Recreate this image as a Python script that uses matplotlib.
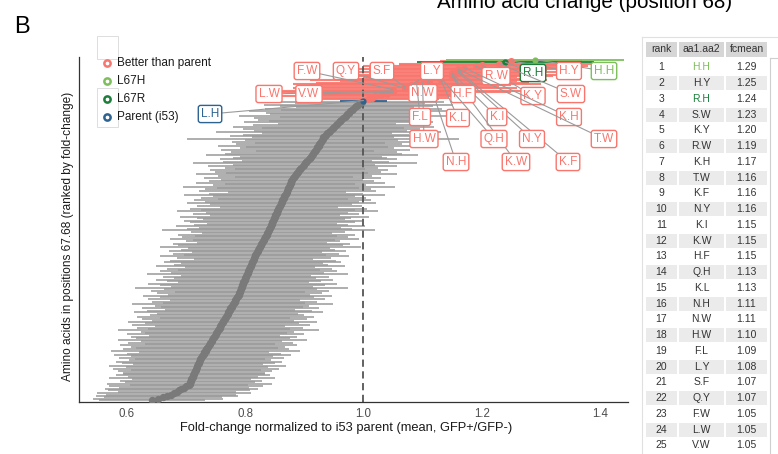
import numpy as np
import matplotlib
matplotlib.use("Agg")
import matplotlib.pyplot as plt
from matplotlib.patches import Rectangle
from matplotlib.lines import Line2D

plt.rcParams["font.family"] = ["Liberation Sans", "DejaVu Sans"]

# ---------------------------------------------------------------- data
# Top 25 variants (positions 67.68), ranked by mean fold-change
top_pair = ["H.H", "H.Y", "R.H", "S.W", "K.Y", "R.W", "K.H", "T.W", "K.F", "N.Y",
            "K.I", "K.W", "H.F", "Q.H", "K.L", "N.H", "N.W", "H.W", "F.L", "L.Y",
            "S.F", "Q.Y", "F.W", "L.W", "V.W"]
top_fc = [1.29, 1.25, 1.24, 1.23, 1.20, 1.19, 1.17, 1.16, 1.16, 1.16,
          1.15, 1.15, 1.15, 1.13, 1.13, 1.11, 1.11, 1.10, 1.09, 1.08,
          1.07, 1.07, 1.05, 1.05, 1.05]

# Remaining variants, ranks 26..250 (rank 31 is the i53 parent, L.H)
rest_fc = [
    1.040, 1.030, 1.020, 1.015, 1.008, 1.000,
    0.997, 0.994, 0.991, 0.988, 0.986, 0.983, 0.980, 0.977, 0.975, 0.972,
    0.970, 0.968, 0.965, 0.962, 0.960, 0.958, 0.955,
    0.953, 0.950, 0.948, 0.946, 0.944, 0.941, 0.939, 0.937, 0.935, 0.932,
    0.931, 0.929, 0.928, 0.927, 0.925, 0.924, 0.922, 0.921, 0.919, 0.918, 0.916, 0.915,
    0.913, 0.911, 0.909, 0.907, 0.905, 0.903, 0.901, 0.899, 0.897, 0.895,
    0.893, 0.891, 0.889, 0.888, 0.886, 0.884, 0.882, 0.880,
    0.879, 0.878, 0.877, 0.876, 0.875, 0.874, 0.873, 0.872, 0.871, 0.870, 0.869,
    0.867, 0.866, 0.865, 0.864, 0.863, 0.862, 0.861, 0.860, 0.858, 0.857,
    0.856, 0.855, 0.854, 0.853, 0.852, 0.851, 0.850, 0.849, 0.848, 0.847,
    0.846, 0.845, 0.844, 0.843, 0.842,
    0.841, 0.840, 0.838, 0.837, 0.836, 0.835, 0.833, 0.832, 0.831, 0.830,
    0.828, 0.827, 0.826, 0.825, 0.823, 0.822, 0.821, 0.820, 0.818, 0.817,
    0.816, 0.815, 0.814, 0.813,
    0.812, 0.811, 0.810, 0.809, 0.808, 0.807, 0.806, 0.805, 0.804, 0.803,
    0.802, 0.801, 0.800, 0.799, 0.798, 0.797, 0.796, 0.795, 0.794, 0.793,
    0.792, 0.791, 0.7905, 0.790,
    0.789, 0.787, 0.786, 0.785, 0.783, 0.782, 0.781, 0.779, 0.778, 0.777,
    0.775, 0.774, 0.773, 0.771, 0.770, 0.769, 0.767, 0.766, 0.765, 0.763,
    0.762, 0.761, 0.759, 0.758, 0.757,
    0.756, 0.754, 0.753, 0.751, 0.750, 0.748, 0.747, 0.746, 0.744, 0.743,
    0.741, 0.740, 0.738, 0.737, 0.736, 0.734, 0.733, 0.731, 0.730, 0.728,
    0.727, 0.726, 0.724, 0.723,
    0.722, 0.721, 0.720, 0.719, 0.718, 0.717, 0.716, 0.715, 0.714, 0.713,
    0.712, 0.711, 0.710, 0.709, 0.708, 0.707, 0.706, 0.705,
    0.700, 0.696, 0.692, 0.688, 0.684, 0.679, 0.674, 0.668, 0.661, 0.652, 0.642,
]

# Spread (half-width of the horizontal bar) for every rank 1..250
fc_sd = [
    0.15, 0.12, 0.15, 0.17, 0.14, 0.19, 0.16, 0.20, 0.15, 0.18,
    0.14, 0.19, 0.17, 0.13, 0.16, 0.20, 0.15, 0.18, 0.21, 0.17,
    0.16, 0.19, 0.14, 0.22, 0.20, 0.15, 0.12, 0.17, 0.13, 0.12,
    0.04, 0.14, 0.11, 0.16, 0.13, 0.10, 0.15, 0.12, 0.17, 0.14,
    0.13, 0.18, 0.11, 0.15, 0.14, 0.12, 0.16, 0.10, 0.14, 0.17,
    0.12, 0.15, 0.13, 0.19, 0.11, 0.14, 0.16, 0.12, 0.23, 0.13,
    0.15, 0.11, 0.14, 0.17, 0.12, 0.13, 0.16, 0.10, 0.14, 0.15,
    0.18, 0.12, 0.13, 0.15, 0.11, 0.14, 0.19, 0.12, 0.16, 0.13,
    0.11, 0.15, 0.14, 0.12, 0.17, 0.13, 0.10, 0.15, 0.12, 0.14,
    0.16, 0.11, 0.13, 0.18, 0.12, 0.14, 0.15, 0.10, 0.13, 0.17,
    0.12, 0.14, 0.11, 0.15, 0.13, 0.16, 0.12, 0.14, 0.10, 0.15,
    0.13, 0.17, 0.12, 0.14, 0.11, 0.16, 0.13, 0.12, 0.15, 0.14,
    0.11, 0.13, 0.16, 0.12, 0.14, 0.18, 0.13, 0.11, 0.15, 0.12,
    0.14, 0.16, 0.12, 0.13, 0.11, 0.15, 0.14, 0.17, 0.12, 0.13,
    0.15, 0.11, 0.14, 0.12, 0.16, 0.13, 0.10, 0.14, 0.15, 0.12,
    0.13, 0.16, 0.11, 0.14, 0.12, 0.15, 0.13, 0.17, 0.11, 0.14,
    0.12, 0.15, 0.13, 0.11, 0.16, 0.14, 0.12, 0.18, 0.13, 0.15,
    0.11, 0.14, 0.12, 0.16, 0.13, 0.15, 0.11, 0.14, 0.12, 0.17,
    0.13, 0.12, 0.15, 0.11, 0.14, 0.16, 0.12, 0.13, 0.15, 0.11,
    0.14, 0.12, 0.16, 0.13, 0.15, 0.11, 0.14, 0.12, 0.17, 0.13,
    0.12, 0.15, 0.11, 0.14, 0.13, 0.16, 0.12, 0.14, 0.11, 0.15,
    0.13, 0.12, 0.14, 0.16, 0.11, 0.13, 0.15, 0.12, 0.14, 0.11,
    0.12, 0.14, 0.13, 0.11, 0.15, 0.12, 0.14, 0.11, 0.13, 0.12,
    0.12, 0.13, 0.11, 0.14, 0.10, 0.12, 0.11, 0.14, 0.10, 0.13,
    0.11, 0.13, 0.12, 0.10, 0.13, 0.11, 0.12, 0.10, 0.11, 0.09,
]

parent_pair = "L.H"
parent_rank = 31
x_ticks = [0.6, 0.8, 1.0, 1.2, 1.4]
legend_labels = ["Better than parent", "L67H", "L67R", "Parent (i53)"]
table_header = ["rank", "aa1.aa2", "fcmean"]

# ---------------------------------------------------------------- derived
fc_mean = np.array(top_fc + rest_fc)
sd = np.array(fc_sd)
assert len(fc_mean) == len(sd)
rank = np.arange(1, len(fc_mean) + 1)

pair_of_rank = {r: p for r, p in zip(rank[:len(top_pair)], top_pair)}
pair_of_rank[parent_rank] = parent_pair

C_BETTER = "#F8766D"
C_L67H = "#7DBF5A"
C_L67R = "#1B7F3B"
C_PARENT = "#2C6391"
C_GREY = "#9a9a9a"
C_MEAN = "#7a7a7a"

group = np.full(len(rank), "other", dtype=object)
group[fc_mean > 1.0] = "better"
for r, p in pair_of_rank.items():
    if p == "H.H":
        group[r - 1] = "L67H"
    elif p == "R.H":
        group[r - 1] = "L67R"
    elif p == parent_pair:
        group[r - 1] = "parent"

# ---------------------------------------------------------------- figure
W, H = 778, 454
fig = plt.figure(figsize=(W / 100, H / 100), dpi=100)


def fx(px):
    return px / W


def fy(py):
    return 1 - py / H


ax = fig.add_axes([fx(79), fy(402), (628 - 79) / W, (402 - 57) / H])

lo = fc_mean - sd
hi = fc_mean + sd

m = group == "other"
ax.hlines(rank[m], lo[m], hi[m], colors=C_GREY, lw=1.4, alpha=0.8, zorder=1)
ax.scatter(fc_mean[m], rank[m], s=28, color=C_MEAN, lw=0, zorder=3)

m = group == "better"
ax.hlines(rank[m], lo[m], hi[m], colors=C_BETTER, lw=1.5, alpha=0.9, zorder=1.5)
ax.scatter(fc_mean[m], rank[m], s=26, color=C_BETTER, lw=0, zorder=3)

for g, col in [("parent", C_PARENT), ("L67R", C_L67R), ("L67H", C_L67H)]:
    m = group == g
    ax.hlines(rank[m], lo[m], hi[m], colors=col, lw=1.3, zorder=2)
    ax.scatter(fc_mean[m], rank[m], s=20, color=col, lw=0, zorder=3)

ax.axvline(1.0, color="#555555", lw=1.3, ls=(0, (4, 2.5)), zorder=2.5)

ax.set_xlim(0.5188, 1.4474)
ax.set_ylim(251.46, -0.83)
ax.set_xticks(x_ticks)
ax.set_xticklabels([f"{t:.1f}" for t in x_ticks])
ax.set_yticks([])
ax.tick_params(axis="x", length=0, pad=4, labelsize=8.3, labelcolor="#4d4d4d")
for s in ["top", "right"]:
    ax.spines[s].set_visible(False)
for s in ["left", "bottom"]:
    ax.spines[s].set_color("#333333")
    ax.spines[s].set_linewidth(0.9)

# repelled labels for the better-than-parent variants and the parent
label_xy = {
    "H.H": (1.4068, 9.41), "H.Y": (1.3476, 9.41), "R.H": (1.2867, 10.87),
    "R.W": (1.2241, 13.07), "L.Y": (1.1159, 9.41), "S.F": (1.0313, 9.41),
    "Q.Y": (0.9704, 9.41), "F.W": (0.9044, 9.41), "L.W": (0.8402, 26.23),
    "V.W": (0.9078, 26.23), "N.W": (1.1006, 25.50), "H.F": (1.1683, 26.23),
    "K.Y": (1.2867, 27.69), "S.W": (1.3509, 26.23), "F.L": (1.0956, 43.05),
    "K.L": (1.1598, 43.78), "K.I": (1.2258, 43.05), "K.H": (1.3476, 43.05),
    "H.W": (1.1023, 59.14), "Q.H": (1.2207, 59.14), "N.Y": (1.2850, 59.14),
    "T.W": (1.4068, 59.14), "N.H": (1.1565, 75.95), "K.W": (1.2579, 75.95),
    "K.F": (1.3459, 75.95), "L.H": (0.7404, 40.85),
}
group_color = {"better": C_BETTER, "L67H": C_L67H, "L67R": C_L67R, "parent": C_PARENT}
for r, p in pair_of_rank.items():
    col = group_color[group[r - 1]]
    ax.annotate(
        p, xy=(fc_mean[r - 1], r), xytext=label_xy[p], textcoords="data",
        ha="center", va="center", fontsize=8.5, color=col, zorder=6,
        annotation_clip=False,
        bbox=dict(boxstyle="round,pad=0.22,rounding_size=0.2", fc="white", ec=col, lw=1.0),
        arrowprops=dict(arrowstyle="-", color="#9a9a9a", lw=0.8, shrinkA=0, shrinkB=0),
    )

# axis titles
fig.text(fx(346), fy(428), "Fold-change normalized to i53 parent (mean, GFP+/GFP-)",
         ha="center", va="center", fontsize=9.3, color="#1a1a1a")
fig.text(fx(68), fy(236), "Amino acids in positions 67.68 (ranked by fold-change)",
         ha="center", va="center", rotation=90, fontsize=8.6, color="#1a1a1a")

# panel letter and cropped heading
fig.text(fx(14), fy(33), "B", ha="left", va="baseline", fontsize=17, color="black")
fig.text(fx(585), fy(8), "Amino acid change (position 68)", ha="center", va="baseline",
         fontsize=14.9, color="black")

# legend
for rect in [(97, 36, 118, 59), (97, 88, 118, 127)]:
    x0, y0, x1, y1 = rect
    fig.add_artist(Rectangle((fx(x0), fy(y1)), (x1 - x0) / W, (y1 - y0) / H,
                             fill=False, ec="#dddddd", lw=0.7))
leg_colors = [C_BETTER, C_L67H, C_L67R, C_PARENT]
for i, (lab, col) in enumerate(zip(legend_labels, leg_colors)):
    yy = 63 + i * 18.1
    fig.add_artist(Line2D([fx(107)], [fy(yy)], marker="o", ls="", ms=4.5, mew=1.8,
                          mfc="white", mec=col))
    fig.text(fx(117), fy(yy), lab, ha="left", va="center", fontsize=8.5, color="#1a1a1a")

# ranking table
tfont = ["Liberation Sans Narrow", "Liberation Sans", "DejaVu Sans"]
cols = [(646, 677), (679, 724), (726, 767)]
fig.add_artist(Line2D([fx(642), fx(642)], [fy(37), fy(454)], color="#e0e0e0", lw=0.8))
fig.add_artist(Line2D([fx(642), fx(778)], [fy(37), fy(37)], color="#e0e0e0", lw=0.8))
fig.add_artist(Line2D([fx(770), fx(770)], [fy(58), fy(454)], color="#cfcfcf", lw=0.8))
fig.add_artist(Line2D([fx(770), fx(778)], [fy(58), fy(58)], color="#cfcfcf", lw=0.8))
for (c0, c1), head in zip(cols, table_header):
    fig.add_artist(Rectangle((fx(c0), fy(57)), (c1 - c0) / W, 15 / H, fc="#d6d6d6", ec="none"))
    fig.text(fx((c0 + c1) / 2), fy(49.5), head, ha="center", va="center",
             fontsize=7.5, color="#333333", family=tfont)
for i, (p, v) in enumerate(zip(top_pair, top_fc)):
    r = i + 1
    yc = 67.3 + i * 15.75
    if r % 2 == 0:
        for c0, c1 in cols:
            fig.add_artist(Rectangle((fx(c0), fy(yc + 7)), (c1 - c0) / W, 14 / H,
                                     fc="#ebebeb", ec="none"))
    pcol = {"H.H": C_L67H, "R.H": C_L67R}.get(p, "#333333")
    cells = [(str(r), "#333333"), (p, pcol), (f"{v:.2f}", "#333333")]
    for (c0, c1), (txt, tc) in zip(cols, cells):
        fig.text(fx((c0 + c1) / 2), fy(yc), txt, ha="center", va="center",
                 fontsize=7.5, color=tc, family=tfont)

fig.savefig("out.png", dpi=100)
